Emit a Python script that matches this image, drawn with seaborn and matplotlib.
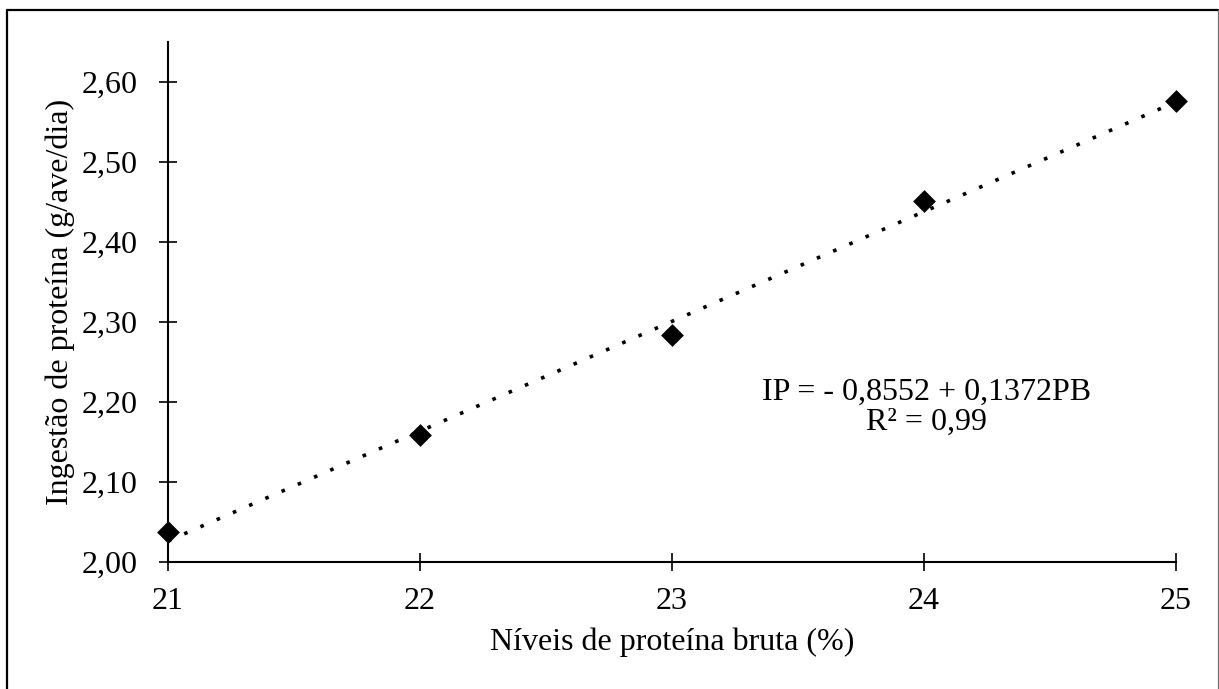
import numpy as np
import pandas as pd
import matplotlib
matplotlib.use("Agg")
import matplotlib.pyplot as plt
from matplotlib.lines import Line2D
import seaborn as sns

# ---- data ----
protein_levels = [21, 22, 23, 24, 25]
protein_intake = [2.037, 2.158, 2.283, 2.451, 2.576]
trend_intercept = -0.8552
trend_slope = 0.1372
x_ticks = [21, 22, 23, 24, 25]
x_tick_labels = ["21", "22", "23", "24", "25"]
y_ticks = [2.00, 2.10, 2.20, 2.30, 2.40, 2.50, 2.60]
y_tick_labels = ["2,00", "2,10", "2,20", "2,30", "2,40", "2,50", "2,60"]
x_label = "Níveis de proteína bruta (%)"
y_label = "Ingestão de proteína (g/ave/dia)"
equation_text = "IP = - 0,8552 + 0,1372PB\nR² = 0,99"

sns.set_theme(style="white")
plt.rcParams["font.family"] = ["Liberation Serif", "DejaVu Serif"]

FS = 23

df = pd.DataFrame({"x": protein_levels, "y": protein_intake})
trend_x = [min(protein_levels), max(protein_levels)]
trend_df = pd.DataFrame({"x": trend_x,
                         "y": [trend_intercept + trend_slope * v for v in trend_x]})

fig = plt.figure(figsize=(12.19, 6.89), dpi=100)
ax = fig.add_axes([168 / 1219, 1 - 561.7 / 689, 1008 / 1219, 520 / 689])

sns.lineplot(data=trend_df, x="x", y="y", ax=ax, color="black",
             linewidth=2.6, linestyle=(0, (1, 3.9)), zorder=2)
ax.lines[-1].set_dash_capstyle("butt")
sns.scatterplot(data=df, x="x", y="y", ax=ax, marker="D", s=135,
                color="black", edgecolor="black", linewidth=0, zorder=3,
                clip_on=False)

ax.set_xlim(21, 25)
ax.set_ylim(2.0, 2.65)
ax.set_xticks(x_ticks)
ax.set_xticklabels(x_tick_labels)
ax.set_yticks(y_ticks)
ax.set_yticklabels(y_tick_labels)

for s in ["top", "right"]:
    ax.spines[s].set_visible(False)
for s in ["left", "bottom"]:
    ax.spines[s].set_linewidth(1.5)
    ax.spines[s].set_color("black")
    ax.spines[s].set_zorder(1)

ax.tick_params(axis="both", direction="inout", length=13, width=1.2,
               color="black", labelsize=FS, labelcolor="black")
ax.tick_params(axis="y", pad=15.5, left=True)
ax.tick_params(axis="x", pad=12, bottom=True)

ax.set_xlabel(x_label, fontsize=FS, color="black", va="center")
ax.set_ylabel(y_label, fontsize=FS, color="black", va="center")
ax.xaxis.set_label_coords(0.5, -0.154)
ax.yaxis.set_label_coords(-0.107, 0.5)

ax.text(0.7527, 0.2965, equation_text, transform=ax.transAxes, fontsize=FS,
        ha="center", va="center", multialignment="center", linespacing=1.05,
        color="black")

ax.patch.set_alpha(0)

# outer frame (left, top, right)
fig.add_artist(Line2D([6.5 / 1219, 6.5 / 1219], [0, 1 - 10 / 689],
                      transform=fig.transFigure, color="black", linewidth=1.6))
fig.add_artist(Line2D([6.5 / 1219, 1217.5 / 1219], [1 - 10 / 689, 1 - 10 / 689],
                      transform=fig.transFigure, color="black", linewidth=1.6))
fig.add_artist(Line2D([1217.5 / 1219, 1217.5 / 1219], [0, 1 - 10 / 689],
                      transform=fig.transFigure, color="#707070", linewidth=0.9))

fig.savefig("out.png", dpi=100, facecolor="white")
